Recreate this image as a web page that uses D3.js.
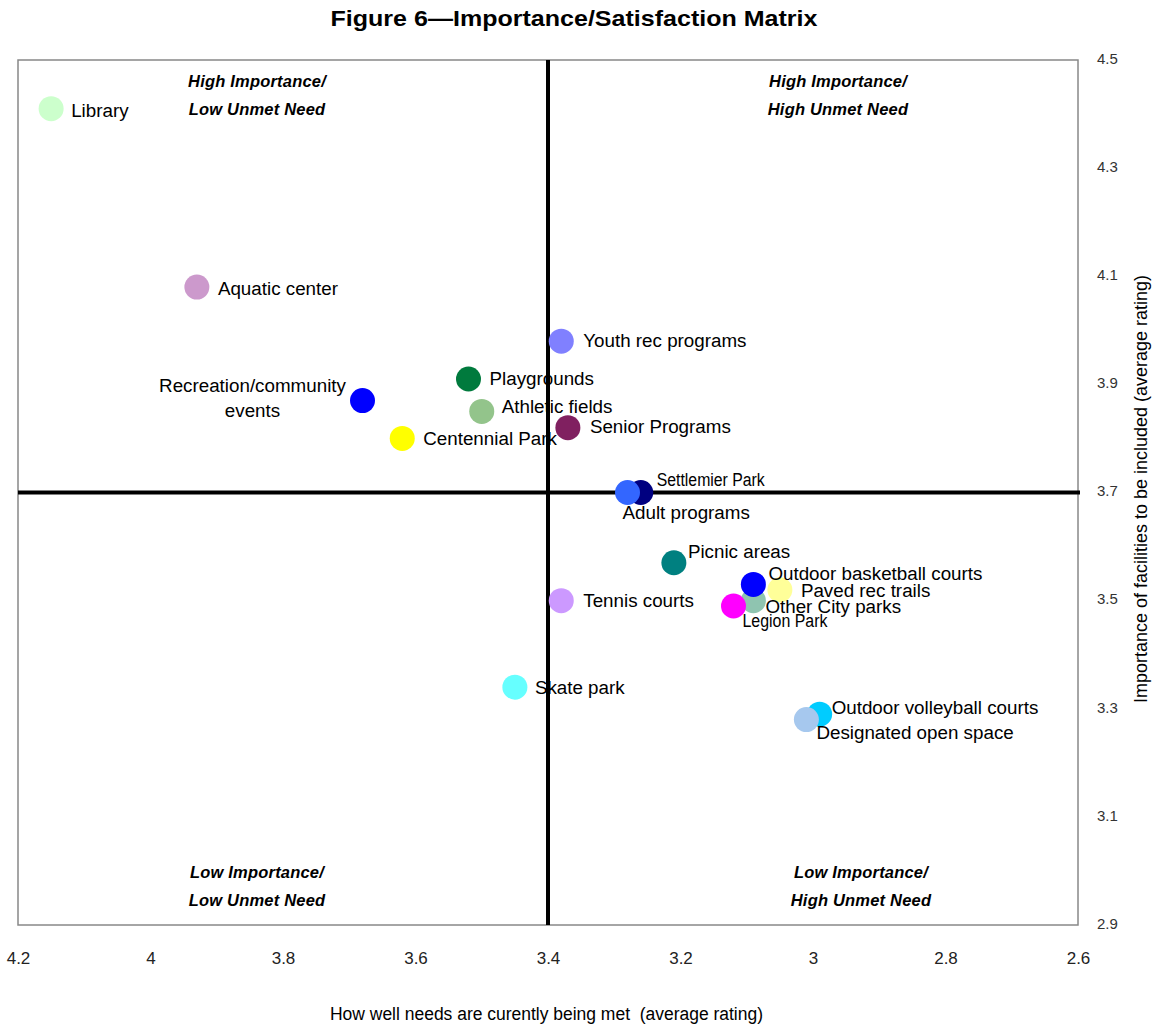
<!DOCTYPE html>
<html>
<head>
<meta charset="utf-8">
<script src="https://cdn.jsdelivr.net/npm/d3@7"></script>
<style>
  html, body { margin: 0; padding: 0; background: #fff; }
  svg { display: block; }
</style>
</head>
<body>
<svg id="chart" width="1157" height="1026"></svg>
<script>
// ---- Data ----
const names = [
  "Library", "Aquatic center", "Youth rec programs", "Playgrounds",
  "Recreation/community events", "Athletic fields", "Senior Programs", "Centennial Park",
  "Settlemier Park", "Adult programs", "Picnic areas", "Outdoor basketball courts",
  "Paved rec trails", "Other City parks", "Legion Park", "Tennis courts",
  "Skate park", "Outdoor volleyball courts", "Designated open space"
];
// How well needs are currently being met (x)
const metValues = [4.15, 3.93, 3.38, 3.52, 3.68, 3.50, 3.37, 3.62, 3.26, 3.28, 3.21, 3.09, 3.05, 3.09, 3.12, 3.38, 3.45, 2.99, 3.01];
// Importance (y)
const importanceValues = [4.41, 4.08, 3.98, 3.91, 3.87, 3.85, 3.82, 3.80, 3.70, 3.70, 3.57, 3.53, 3.52, 3.50, 3.49, 3.50, 3.34, 3.29, 3.28];
const xTicks = [4.2, 4.0, 3.8, 3.6, 3.4, 3.2, 3.0, 2.8, 2.6];
const yTicks = [4.5, 4.3, 4.1, 3.9, 3.7, 3.5, 3.3, 3.1, 2.9];
const xDividerValue = 3.4;
const yDividerValue = 3.7;
const quadrantLabels = [
  ["High Importance/", "Low Unmet Need"],
  ["High Importance/", "High Unmet Need"],
  ["Low Importance/", "Low Unmet Need"],
  ["Low Importance/", "High Unmet Need"]
];
const titleText = "Figure 6\u2014Importance/Satisfaction Matrix";
const xTitle = "How well needs are curently being met  (average rating)";
const yTitle = "Importance of facilities to be included (average rating)";

// ---- Styles / layout (not data) ----
const colors = [
  "#ccffcc", "#cc99cc", "#8080ff", "#007a3d",
  "#0000ff", "#93c48b", "#802060", "#ffff00",
  "#000080", "#3366ff", "#008080", "#0000ff",
  "#ffff99", "#8fc4b0", "#ff00ff", "#cc99ff",
  "#66ffff", "#00ccff", "#a6c8ee"
];
// label offsets relative to the point: [dx, dy, anchor, condensedWidth]
const labelLayout = [
  [20, 8, "start", 0], [21, 8, "start", 0], [22, 6, "start", 0], [21, 6, "start", 0],
  [-110, -9, "middle", 0], [20, 2, "start", 0], [22, 5, "start", 0], [21, 7, "start", 0],
  [16, -7, "start", 108], [-5, 26, "start", 0], [14, -5, "start", 0], [15, -4, "start", 0],
  [21, 7, "start", 0], [12, 12, "start", 0], [9, 21, "start", 85], [22, 6, "start", 0],
  [20, 7, "start", 0], [12, 0, "start", 0], [10, 19, "start", 0]
];
const drawOrder = [0,1,2,3,4,5,6,7,8,9,10,13,14,12,11,15,16,17,18];

const svg = d3.select("#chart");
const pLeft = 18, pRight = 1078, pTop = 60, pBottom = 925;
const FONT = "Liberation Sans, Arial, sans-serif";

const x = d3.scaleLinear().domain([4.2, 2.6]).range([pLeft, pRight]);
const y = d3.scaleLinear().domain([2.9, 4.5]).range([pBottom, pTop]);

// title
svg.append("text")
  .attr("x", 574).attr("y", 26)
  .attr("text-anchor", "middle")
  .attr("font-family", FONT)
  .attr("font-weight", "bold").attr("font-size", 22)
  .attr("textLength", 487).attr("lengthAdjust", "spacingAndGlyphs")
  .text(titleText);

// plot border
svg.append("rect")
  .attr("x", pLeft).attr("y", pTop)
  .attr("width", pRight - pLeft).attr("height", pBottom - pTop)
  .attr("fill", "none").attr("stroke", "#888").attr("stroke-width", 1.5);

// axes
const xAxis = svg.append("g")
  .attr("transform", `translate(0,${pBottom})`)
  .call(d3.axisBottom(x).tickValues(xTicks).tickSize(0).tickPadding(27)
    .tickFormat(d => d3.format("~g")(d)));
xAxis.attr("font-family", FONT);
xAxis.select(".domain").remove();
xAxis.selectAll("text")
  .style("font-size", "17px").attr("fill", "#222");

const yAxis = svg.append("g")
  .attr("transform", `translate(${pRight},0)`)
  .call(d3.axisRight(y).tickValues(yTicks).tickSize(0).tickPadding(19)
    .tickFormat(d3.format(".1f")));
yAxis.select(".domain").remove();
yAxis.attr("font-family", FONT);
yAxis.selectAll("text")
  .style("font-size", "15px").attr("fill", "#333")
  .attr("dy", "0.22em");

// axis titles
svg.append("text")
  .attr("x", 546.5).attr("y", 1020)
  .attr("text-anchor", "middle")
  .attr("font-family", FONT)
  .style("font-size", "18px")
  .style("white-space", "pre")
  .attr("textLength", 433).attr("lengthAdjust", "spacingAndGlyphs")
  .text(xTitle);

svg.append("text")
  .attr("transform", `translate(1147,489) rotate(-90)`)
  .attr("text-anchor", "middle")
  .attr("font-family", FONT)
  .style("font-size", "18px")
  .attr("textLength", 428).attr("lengthAdjust", "spacingAndGlyphs")
  .text(yTitle);

// divider lines
svg.append("line")
  .attr("x1", x(xDividerValue)).attr("x2", x(xDividerValue))
  .attr("y1", pTop).attr("y2", pBottom)
  .attr("stroke", "#000").attr("stroke-width", 4);
svg.append("line")
  .attr("x1", pLeft).attr("x2", pRight + 2)
  .attr("y1", y(yDividerValue)).attr("y2", y(yDividerValue))
  .attr("stroke", "#000").attr("stroke-width", 4);

// quadrant labels
const quadPos = [[257, 87], [838, 87], [257, 878], [861, 878]];
quadrantLabels.forEach((lines, i) => {
  lines.forEach((t, j) => {
    svg.append("text")
      .attr("x", quadPos[i][0]).attr("y", quadPos[i][1] + j * 28)
      .attr("text-anchor", "middle")
      .attr("font-family", FONT)
      .attr("font-weight", "bold").attr("font-style", "italic")
      .style("font-size", "16.5px")
      .style("letter-spacing", "0.2px")
      .text(t);
  });
});

// points
const pts = svg.append("g");
drawOrder.forEach(i => {
  pts.append("circle")
    .attr("cx", x(metValues[i])).attr("cy", y(importanceValues[i]))
    .attr("r", 12.5)
    .attr("fill", colors[i]);
});

// labels
const lbl = svg.append("g");
names.forEach((n, i) => {
  const [dx, dy, anchor, condensed] = labelLayout[i];
  const t = lbl.append("text")
    .attr("x", x(metValues[i]) + dx)
    .attr("y", y(importanceValues[i]) + dy)
    .attr("text-anchor", anchor)
    .attr("font-family", FONT)
    .style("font-size", condensed ? "18px" : "18.8px")
    .attr("fill", "#000");
  if (condensed) {
    t.attr("textLength", condensed).attr("lengthAdjust", "spacingAndGlyphs");
  }
  if (n === "Recreation/community events") {
    t.append("tspan").attr("x", x(metValues[i]) + dx).text("Recreation/community");
    t.append("tspan").attr("x", x(metValues[i]) + dx).attr("dy", 25).text("events");
  } else {
    t.text(n);
  }
});
</script>
</body>
</html>
